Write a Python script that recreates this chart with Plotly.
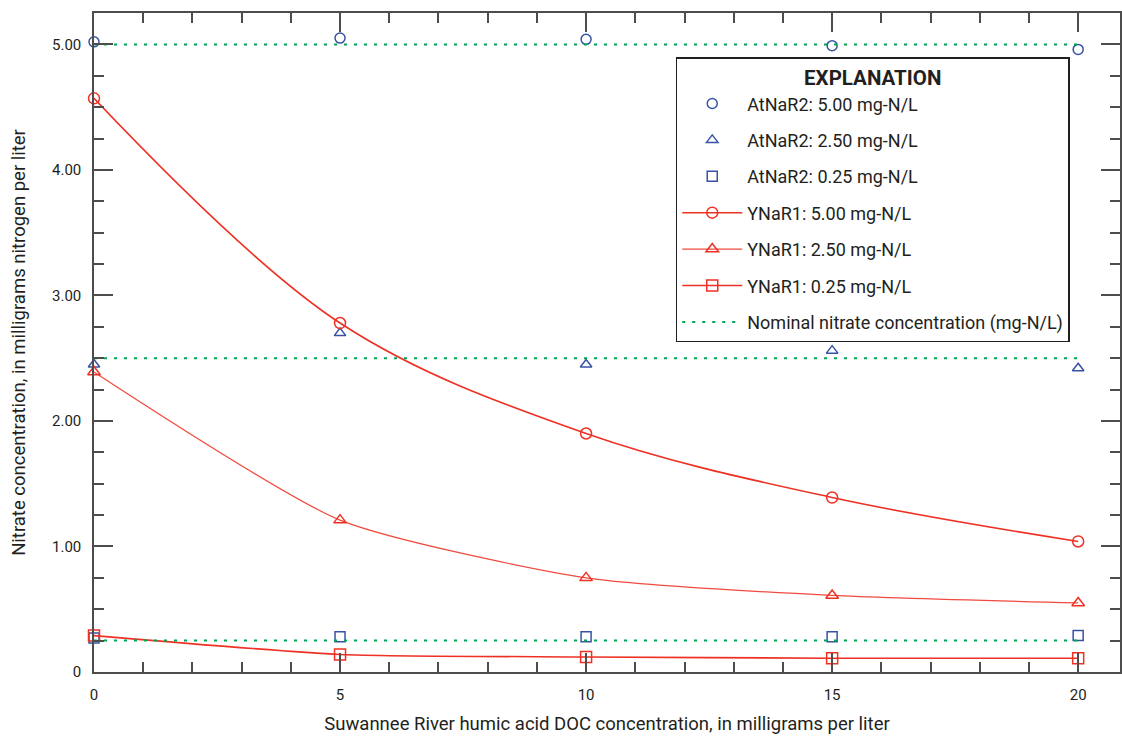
import plotly.graph_objects as go

doc = [0, 5, 10, 15, 20]

at_500 = [5.02, 5.05, 5.04, 4.99, 4.96]
at_250 = [2.45, 2.70, 2.45, 2.56, 2.42]
at_025 = [0.27, 0.28, 0.28, 0.28, 0.29]

y_500 = [4.57, 2.78, 1.90, 1.39, 1.04]
y_250 = [2.39, 1.21, 0.75, 0.61, 0.55]
y_025 = [0.29, 0.14, 0.12, 0.11, 0.11]

nominal = [5.00, 2.50, 0.25]
nominal_x = [0, 20]

ytick_vals = [0, 1, 2, 3, 4, 5]
ytick_text = ["0", "1.00", "2.00", "3.00", "4.00", "5.00"]
xtick_vals = [0, 5, 10, 15, 20]
xtick_text = ["0", "5", "10", "15", "20"]

BLUE = "#3953a4"
RED = "#ee3124"
RED2 = "#f04b3f"
GREEN = "#00a651"
FONT = "Roboto, sans-serif"

fig = go.Figure()

def add_markers(y, sym, name, grp):
    fig.add_trace(go.Scatter(
        x=doc, y=y, mode="markers", name=name, legendgroup=grp,
        marker=dict(symbol=sym, size=10, color=BLUE,
                    line=dict(color=BLUE, width=1.5)),
        cliponaxis=False))

def add_line(y, sym, name, grp, color, width, smooth):
    fig.add_trace(go.Scatter(
        x=doc, y=y, mode="lines+markers", name=name, legendgroup=grp,
        line=dict(color=color, width=width, shape="spline", smoothing=smooth),
        marker=dict(symbol=sym, size=11, color=RED,
                    line=dict(color=RED, width=1.5)),
        cliponaxis=False))

add_markers(at_500, "circle-open", "AtNaR2: 5.00 mg-N/L", "a")
add_markers(at_250, "triangle-up-open", "AtNaR2: 2.50 mg-N/L", "b")
add_markers(at_025, "square-open", "AtNaR2: 0.25 mg-N/L", "c")
add_line(y_500, "circle-open", "YNaR1: 5.00 mg-N/L", "d", RED, 1.6, 1.0)
add_line(y_250, "triangle-up-open", "YNaR1: 2.50 mg-N/L", "e", RED2, 1.2, 0.6)
add_line(y_025, "square-open", "YNaR1: 0.25 mg-N/L", "f", RED, 1.6, 0.6)

for i, v in enumerate(nominal):
    fig.add_trace(go.Scatter(
        x=nominal_x, y=[v, v], mode="lines",
        name="Nominal nitrate concentration (mg-N/L)", legendgroup="g",
        showlegend=(i == 0),
        line=dict(color=GREEN, width=2, dash="3px,7px")))

fig.update_layout(
    width=1122, height=737,
    margin=dict(l=94, r=0, t=13, b=65),
    paper_bgcolor="white", plot_bgcolor="white",
    font=dict(family=FONT, size=15, color="#231f20"),
    showlegend=True,
    legend=dict(
        x=0.567, y=0.933, xanchor="left", yanchor="top",
        bgcolor="white", bordercolor="#231f20", borderwidth=1.5,
        font=dict(size=18, family=FONT),
        title=dict(text="<b>EXPLANATION</b>", side="top center",
                   font=dict(size=20.5, family=FONT)),
        traceorder="grouped", tracegroupgap=10, itemwidth=60,
    ),
    xaxis=dict(
        range=[0, 20.85], showgrid=False, zeroline=False,
        showline=True, linecolor="#4d4d4d", linewidth=1.5, mirror="ticks",
        ticks="inside", ticklen=19, tickwidth=1.5, tickcolor="#4d4d4d",
        tickvals=xtick_vals, ticktext=xtick_text, ticklabelstandoff=8,
        minor=dict(dtick=1, tick0=0, ticks="inside", ticklen=10,
                   tickwidth=1.5, tickcolor="#4d4d4d"),
        title=dict(text="Suwannee River humic acid DOC concentration, in milligrams per liter",
                   font=dict(size=18.5), standoff=14),
        tickfont=dict(size=15),
    ),
    yaxis=dict(
        range=[0, 5.25], showgrid=False, zeroline=False,
        showline=True, linecolor="#4d4d4d", linewidth=1.5, mirror="ticks",
        ticks="inside", ticklen=19, tickwidth=1.5, tickcolor="#4d4d4d",
        tickvals=ytick_vals, ticktext=ytick_text, ticklabelstandoff=8,
        minor=dict(dtick=0.25, tick0=0, ticks="inside", ticklen=10,
                   tickwidth=1.5, tickcolor="#4d4d4d"),
        title=dict(text="Nitrate concentration, in milligrams nitrogen per liter",
                   font=dict(size=18.5), standoff=22),
        tickfont=dict(size=15),
    ),
)

fig.write_html("out.html")
